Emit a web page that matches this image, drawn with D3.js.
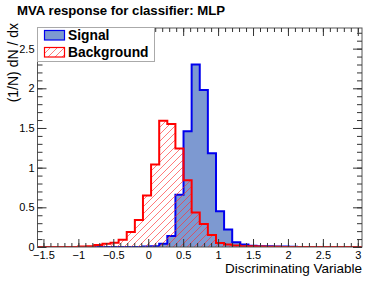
<!DOCTYPE html>
<html>
<head>
<meta charset="utf-8">
<script src="https://cdn.jsdelivr.net/npm/d3@7"></script>
<style>
  body { margin: 0; background: #fff; }
  svg { display: block; font-family: "Liberation Sans", Arial, sans-serif; }
</style>
</head>
<body>
<div id="chart"></div>
<script>
// histogram range and binning (TMVA style, 40 bins)
const xMin = -1.585, xMax = 3.06, nBins = 40;

// normalised bin contents
const signal = [
  0, 0, 0, 0, 0, 0, 0, 0, 0, 0,
  0, 0, 0, 0.005, 0.01, 0.04, 0.14, 0.66, 1.46, 2.30,
  1.98, 1.18, 0.45, 0.22, 0.06, 0.03, 0.015, 0.01, 0.01, 0.005,
  0.005, 0.003, 0, 0, 0, 0, 0, 0, 0, 0
];
const background = [
  0, 0, 0, 0, 0, 0.005, 0.01, 0.025, 0.04, 0.055,
  0.09, 0.19, 0.34, 0.65, 1.04, 1.59, 1.55, 1.24, 0.84, 0.435,
  0.29, 0.15, 0.05, 0.03, 0.02, 0.01, 0.01, 0.005, 0.003, 0.002,
  0, 0, 0, 0, 0, 0, 0, 0, 0, 0
];

const xTicks = [-1.5, -1, -0.5, 0, 0.5, 1, 1.5, 2, 2.5, 3];
const yTicks = [0, 0.5, 1, 1.5, 2, 2.5];
const legendItems = ["Signal", "Background"];

const width = 381, height = 281;
const frame = {left: 37.5, right: 362, top: 28, bottom: 247};

const x = d3.scaleLinear().domain([xMin, xMax]).range([frame.left, frame.right]);
const y = d3.scaleLinear().domain([0, 2.76]).range([frame.bottom, frame.top]);

const binW = (xMax - xMin) / nBins;

const svg = d3.select("#chart").append("svg")
  .attr("width", width)
  .attr("height", height);

const defs = svg.append("defs");
defs.append("clipPath").attr("id", "clip")
  .append("rect")
  .attr("x", frame.left).attr("y", frame.top)
  .attr("width", frame.right - frame.left)
  .attr("height", frame.bottom - frame.top);

defs.append("pattern")
  .attr("id", "hatch")
  .attr("patternUnits", "userSpaceOnUse")
  .attr("width", 7).attr("height", 7)
  .append("path")
  .attr("d", "M-1,1 l2,-2 M0,7 l7,-7 M6,8 l2,-2")
  .attr("stroke", "#ff3030")
  .attr("stroke-opacity", 0.8)
  .attr("stroke-width", 0.8);

// step outline points for a histogram
function stepPoints(values) {
  const pts = [[xMin, 0]];
  values.forEach((v, i) => {
    pts.push([xMin + i * binW, v]);
    pts.push([xMin + (i + 1) * binW, v]);
  });
  pts.push([xMax, 0]);
  return pts;
}

const area = d3.area()
  .x(d => x(d[0]))
  .y0(y(0))
  .y1(d => y(d[1]));
const line = d3.line()
  .x(d => x(d[0]))
  .y(d => y(d[1]));

const plot = svg.append("g").attr("clip-path", "url(#clip)");

plot.append("path")
  .datum(stepPoints(signal))
  .attr("d", area)
  .attr("fill", "#7d99d1");
plot.append("path")
  .datum(stepPoints(signal))
  .attr("d", line)
  .attr("fill", "none")
  .attr("stroke", "#0000ee")
  .attr("stroke-width", 2);

plot.append("path")
  .datum(stepPoints(background))
  .attr("d", area)
  .attr("fill", "url(#hatch)");
plot.append("path")
  .datum(stepPoints(background))
  .attr("d", line)
  .attr("fill", "none")
  .attr("stroke", "#ff0000")
  .attr("stroke-width", 2);

// frame
svg.append("rect")
  .attr("x", frame.left).attr("y", frame.top)
  .attr("width", frame.right - frame.left)
  .attr("height", frame.bottom - frame.top)
  .attr("fill", "none")
  .attr("stroke", "#555")
  .attr("stroke-width", 1);

const fmt = d => d3.format("")(d).replace("-", "\u2212");

const xMinor = d3.range(-15, 31).map(d => d / 10);
const yMinor = d3.range(0, 28).map(d => d / 10);

function styleAxis(g) {
  g.select(".domain").remove();
  g.selectAll("line").attr("stroke", "#333");
  g.selectAll("text").attr("fill", "#000").style("font-size", "11px")
    .style("font-family", "Liberation Sans, Arial, sans-serif");
}

// bottom axis
svg.append("g")
  .attr("transform", `translate(0,${frame.bottom})`)
  .call(d3.axisBottom(x).tickValues(xMinor).tickSize(-4).tickFormat(""))
  .call(styleAxis);
svg.append("g")
  .attr("transform", `translate(0,${frame.bottom})`)
  .call(d3.axisBottom(x).tickValues(xTicks).tickSize(-8).tickPadding(4).tickFormat(fmt))
  .call(styleAxis);
// top axis
svg.append("g")
  .attr("transform", `translate(0,${frame.top})`)
  .call(d3.axisTop(x).tickValues(xMinor).tickSize(-4).tickFormat(""))
  .call(styleAxis);
svg.append("g")
  .attr("transform", `translate(0,${frame.top})`)
  .call(d3.axisTop(x).tickValues(xTicks).tickSize(-8).tickFormat(""))
  .call(styleAxis);
// left axis
svg.append("g")
  .attr("transform", `translate(${frame.left},0)`)
  .call(d3.axisLeft(y).tickValues(yMinor).tickSize(-5).tickFormat(""))
  .call(styleAxis);
svg.append("g")
  .attr("transform", `translate(${frame.left},0)`)
  .call(d3.axisLeft(y).tickValues(yTicks).tickSize(-9).tickPadding(3).tickFormat(fmt))
  .call(styleAxis);
// right axis
svg.append("g")
  .attr("transform", `translate(${frame.right},0)`)
  .call(d3.axisRight(y).tickValues(yMinor).tickSize(-5).tickFormat(""))
  .call(styleAxis);
svg.append("g")
  .attr("transform", `translate(${frame.right},0)`)
  .call(d3.axisRight(y).tickValues(yTicks).tickSize(-9).tickFormat(""))
  .call(styleAxis);

// titles
svg.append("text")
  .attr("x", 17).attr("y", 15)
  .style("font-size", "13.2px").style("font-weight", "bold")
  .text("MVA response for classifier: MLP");

svg.append("text")
  .attr("x", frame.right).attr("y", 273)
  .attr("text-anchor", "end")
  .style("font-size", "13.5px")
  .text("Discriminating Variable");

svg.append("text")
  .attr("transform", `translate(18,${frame.top - 5}) rotate(-90)`)
  .attr("text-anchor", "end")
  .style("font-size", "14px")
  .text("(1/N) dN / dx");

// legend
const legend = svg.append("g");
legend.append("rect")
  .attr("x", 37.5).attr("y", 27.5)
  .attr("width", 117).attr("height", 34)
  .attr("fill", "#fff")
  .attr("stroke", "#aaa")
  .attr("stroke-width", 1);

const swatchFill = ["#7d99d1", "url(#hatch)"];
const swatchLine = ["#0000ee", "#ff0000"];
legendItems.forEach((name, i) => {
  const cy = 35 + i * 17;
  legend.append("rect")
    .attr("x", 44.5).attr("y", cy - 4.5)
    .attr("width", 20).attr("height", 9.5)
    .attr("fill", swatchFill[i])
    .attr("stroke", swatchLine[i])
    .attr("stroke-width", 1.2);
  legend.append("text")
    .attr("x", 68).attr("y", cy + 5)
    .style("font-size", "13.8px").style("font-weight", "bold")
    .text(name);
});
</script>
</body>
</html>
